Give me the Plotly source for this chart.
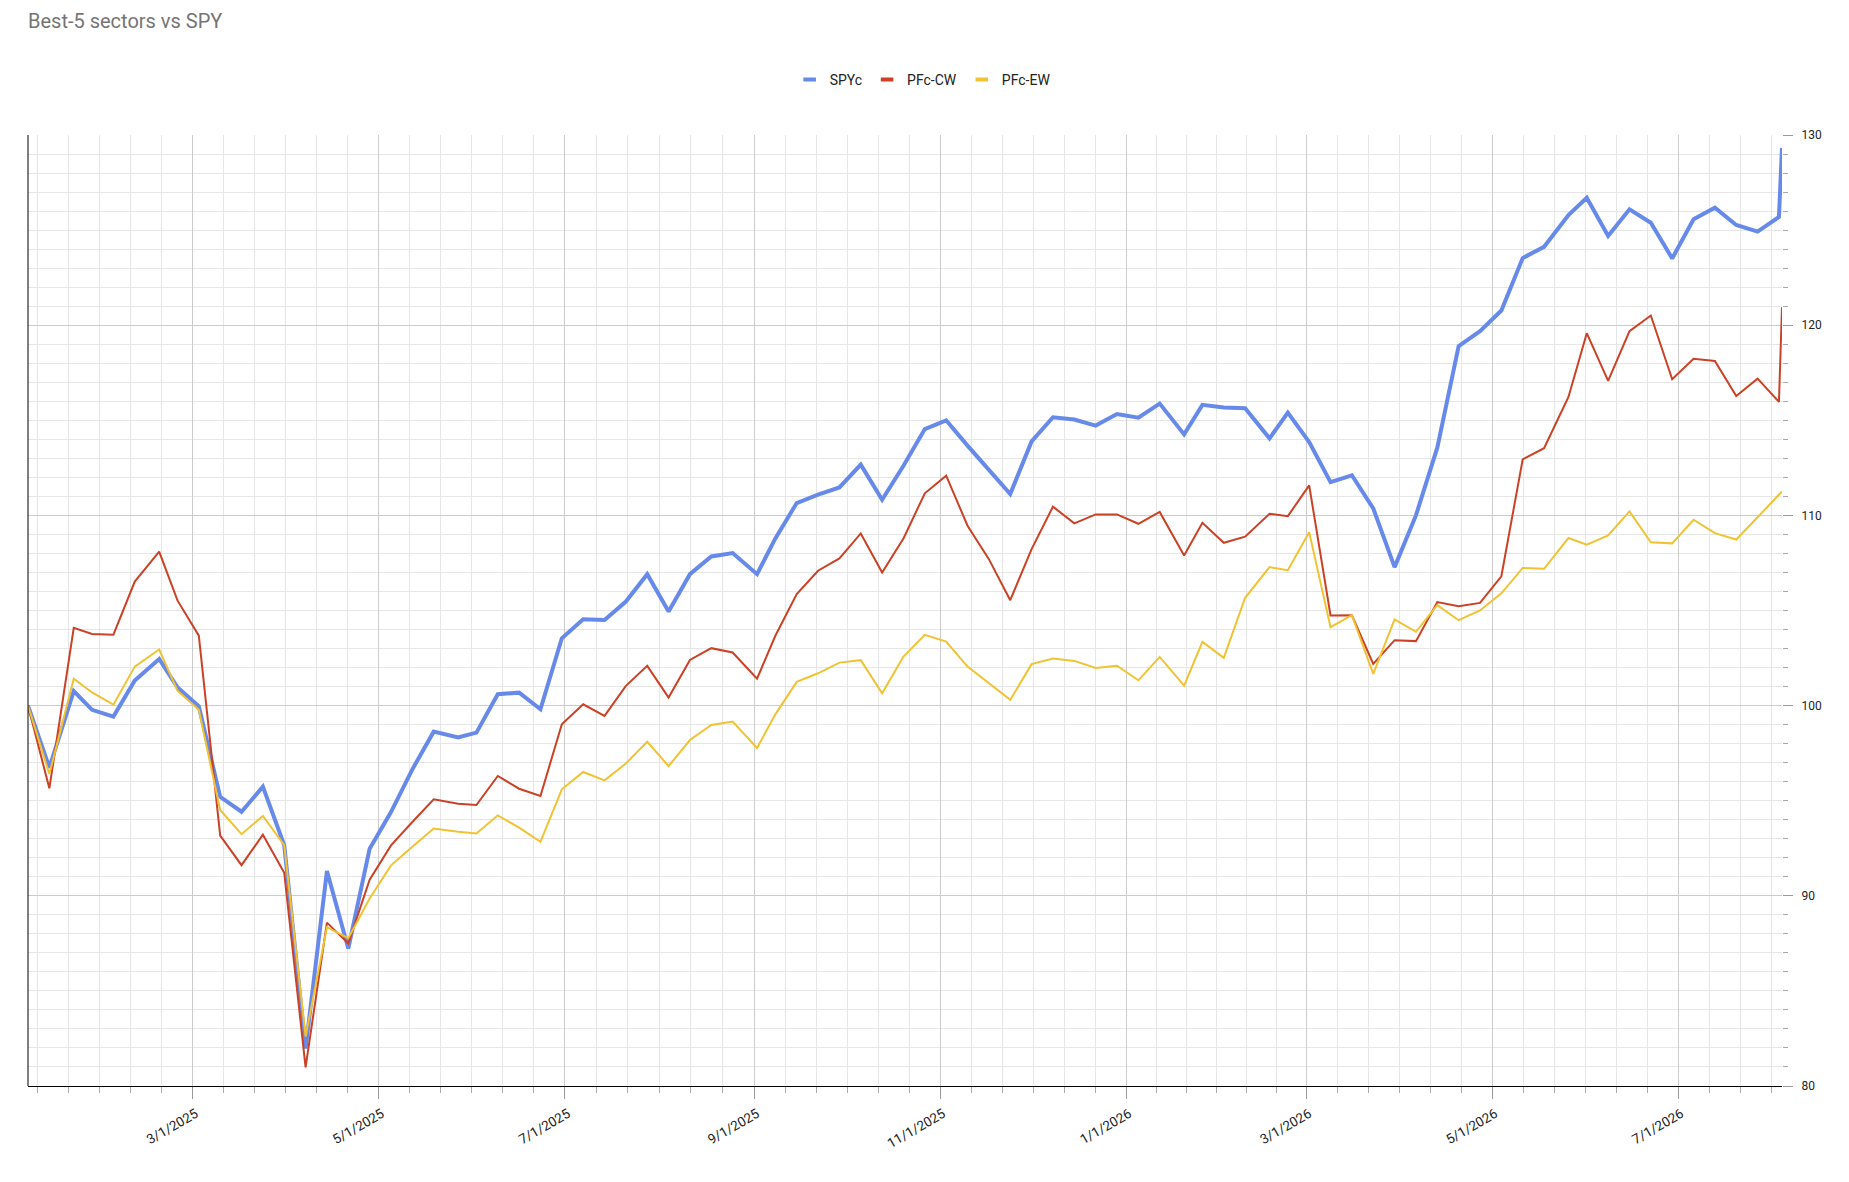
import plotly.graph_objects as go
import datetime as dt

# ---------------- data ----------------
dates = [
    "2025-01-06", "2025-01-13", "2025-01-21", "2025-01-27", "2025-02-03", "2025-02-10",
    "2025-02-18", "2025-02-24", "2025-03-03", "2025-03-10", "2025-03-17", "2025-03-24",
    "2025-03-31", "2025-04-07", "2025-04-14", "2025-04-21", "2025-04-28", "2025-05-05",
    "2025-05-12", "2025-05-19", "2025-05-27", "2025-06-02", "2025-06-09", "2025-06-16",
    "2025-06-23", "2025-06-30", "2025-07-07", "2025-07-14", "2025-07-21", "2025-07-28",
    "2025-08-04", "2025-08-11", "2025-08-18", "2025-08-25", "2025-09-02", "2025-09-08",
    "2025-09-15", "2025-09-22", "2025-09-29", "2025-10-06", "2025-10-13", "2025-10-20",
    "2025-10-27", "2025-11-03", "2025-11-10", "2025-11-17", "2025-11-24", "2025-12-01",
    "2025-12-08", "2025-12-15", "2025-12-22", "2025-12-29", "2026-01-05", "2026-01-12",
    "2026-01-20", "2026-01-26", "2026-02-02", "2026-02-09", "2026-02-17", "2026-02-23",
    "2026-03-02", "2026-03-09", "2026-03-16", "2026-03-23", "2026-03-30", "2026-04-06",
    "2026-04-13", "2026-04-20", "2026-04-27", "2026-05-04", "2026-05-11", "2026-05-18",
    "2026-05-26", "2026-06-01", "2026-06-08", "2026-06-15", "2026-06-22", "2026-06-29",
    "2026-07-06", "2026-07-13", "2026-07-20", "2026-07-27", "2026-08-03", "2026-08-04",
]

spyc = [
    100, 96.74, 100.76, 99.78, 99.42, 101.32, 102.45, 100.96, 99.96, 95.2,
    94.42, 95.74, 92.66, 81.97, 91.3, 87.23, 92.48, 94.4, 96.65, 98.63,
    98.32, 98.58, 100.6, 100.68, 99.81, 103.54, 104.54, 104.5, 105.47, 106.91,
    104.95, 106.91, 107.84, 108.02, 106.91, 108.79, 110.65, 111.09, 111.47, 112.67,
    110.82, 112.61, 114.54, 115.0, 113.67, 112.4, 111.12, 113.89, 115.16, 115.04,
    114.72, 115.33, 115.14, 115.88, 114.26, 115.81, 115.67, 115.63, 114.05, 115.4,
    113.86, 111.75, 112.11, 110.37, 107.28, 110.0, 113.56, 118.9, 119.69, 120.77,
    123.53, 124.12, 125.79, 126.7, 124.69, 126.09, 125.39, 123.51, 125.57, 126.18,
    125.27, 124.92, 125.69, 129.32,
]

pfc_cw = [
    100, 95.65, 104.09, 103.77, 103.73, 106.52, 108.1, 105.53, 103.68, 93.17,
    91.61, 93.21, 91.21, 80.98, 88.59, 87.5, 90.85, 92.65, 93.88, 95.07,
    94.84, 94.77, 96.3, 95.63, 95.25, 99.02, 100.07, 99.46, 101.04, 102.09,
    100.42, 102.4, 103.02, 102.79, 101.42, 103.67, 105.86, 107.09, 107.74, 109.05,
    107.0, 108.79, 111.16, 112.09, 109.46, 107.7, 105.54, 108.23, 110.46, 109.58,
    110.05, 110.05, 109.56, 110.18, 107.89, 109.61, 108.56, 108.88, 110.09, 109.96,
    111.58, 104.74, 104.75, 102.19, 103.44, 103.39, 105.44, 105.23, 105.4, 106.8,
    112.95, 113.53, 116.23, 119.58, 117.07, 119.69, 120.51, 117.16, 118.24, 118.12,
    116.28, 117.19, 115.97, 120.94,
]

pfc_ew = [
    100, 96.4, 101.41, 100.69, 100.05, 102.05, 102.95, 100.78, 99.78, 94.51,
    93.24, 94.2, 92.66, 82.6, 88.35, 87.77, 89.86, 91.6, 92.58, 93.54,
    93.37, 93.28, 94.23, 93.58, 92.84, 95.6, 96.51, 96.07, 96.96, 98.1,
    96.82, 98.19, 98.98, 99.16, 97.77, 99.54, 101.25, 101.7, 102.26, 102.39,
    100.65, 102.58, 103.72, 103.37, 102.05, 101.18, 100.3, 102.18, 102.47, 102.35,
    101.98, 102.1, 101.33, 102.56, 101.05, 103.35, 102.51, 105.67, 107.28, 107.12,
    109.12, 104.12, 104.75, 101.67, 104.53, 103.88, 105.28, 104.49, 105.0, 105.9,
    107.24, 107.19, 108.81, 108.46, 108.95, 110.21, 108.59, 108.53, 109.77, 109.07,
    108.73, 109.9, 111.08, 111.26,
]

series_names = ["SPYc", "PFc-CW", "PFc-EW"]
series_colors = ["#6689EA", "#CC4125", "#F1C232"]
series_widths = [4, 2, 2]

x_major_ticks = ["2025-03-01", "2025-05-01", "2025-07-01", "2025-09-01", "2025-11-01",
                 "2026-01-01", "2026-03-01", "2026-05-01", "2026-07-01"]
x_major_labels = ["3/1/2025", "5/1/2025", "7/1/2025", "9/1/2025", "11/1/2025",
                  "1/1/2026", "3/1/2026", "5/1/2026", "7/1/2026"]
y_major_ticks = [80, 90, 100, 110, 120, 130]

# minor x gridlines: each labelled 2-month interval split into 6 equal parts
def _d(s):
    return dt.datetime.fromisoformat(s)

_maj = [_d(s) for s in x_major_ticks]
_start, _end = _d(dates[0]), _d(dates[-1])
_minor = []
_step0 = (_maj[1] - _maj[0]) / 6
_t = _maj[0] - _step0
while _t > _start:
    _minor.append(_t)
    _t -= _step0
for a, b in zip(_maj[:-1], _maj[1:]):
    for k in range(1, 6):
        _minor.append(a + (b - a) * k / 6)
_stepN = (_maj[-1] - _maj[-2]) / 6
_t = _maj[-1] + _stepN
while _t < _end:
    _minor.append(_t)
    _t += _stepN
x_minor_ticks = sorted(t.strftime("%Y-%m-%d %H:%M:%S") for t in _minor)

FONT = "Roboto, Arial, sans-serif"
W, H = 1849, 1182

fig = go.Figure()
for name, vals, col, lw in zip(series_names, [spyc, pfc_cw, pfc_ew], series_colors, series_widths):
    fig.add_trace(go.Scatter(x=dates, y=vals, mode="lines", name=name,
                             line=dict(color=col, width=lw), showlegend=False))
# legend swatches (short thick bars, like the reference)
for name, col in zip(series_names, series_colors):
    fig.add_trace(go.Scatter(x=[None], y=[None], mode="markers", name=name,
                             marker=dict(symbol="line-ew", size=9,
                                         line=dict(color=col, width=4)),
                             showlegend=True))

fig.update_layout(
    width=W, height=H,
    margin=dict(l=28, r=67, t=135, b=96),
    paper_bgcolor="white", plot_bgcolor="white",
    font=dict(family=FONT, color="#222222", size=12),
    title=dict(text="Best-5 sectors vs SPY", x=28 / W, xref="container", xanchor="left",
               y=1 - 21 / H, yref="container", yanchor="middle",
               font=dict(family=FONT, size=20, color="#757575")),
    legend=dict(orientation="h", x=0.499, xref="container", xanchor="center",
                y=1 - 80 / H, yref="container", yanchor="middle",
                font=dict(family=FONT, size=14, color="#222222"),
                itemwidth=30, bgcolor="rgba(0,0,0,0)"),
    hovermode=False,
    showlegend=True,
)

fig.update_xaxes(
    type="date", range=[dates[0], dates[-1]],
    tickmode="array", tickvals=x_major_ticks, ticktext=x_major_labels,
    tickangle=-30, tickfont=dict(family=FONT, size=13.5, color="#222222"),
    ticklabelshift=3, ticklabelstandoff=2,
    ticks="outside", ticklen=12, tickcolor="#999999", tickwidth=1,
    showgrid=True, gridcolor="#cccccc", gridwidth=1,
    showline=True, linecolor="#000000", linewidth=1,
    zeroline=False,
    minor=dict(tickmode="array", tickvals=x_minor_ticks, ticks="outside", ticklen=6,
               tickcolor="#aaaaaa", showgrid=True, gridcolor="#e6e6e6", gridwidth=1),
)

fig.update_yaxes(
    side="right", range=[80, 130],
    tickmode="array", tickvals=y_major_ticks,
    tickfont=dict(family=FONT, size=12, color="#222222"),
    ticks="outside", ticklen=10, tickcolor="#999999", tickwidth=1,
    ticklabelstandoff=6,
    showgrid=True, gridcolor="#cccccc", gridwidth=1,
    showline=False, zeroline=False,
    minor=dict(dtick=1, tick0=80, ticks="outside", ticklen=5, tickcolor="#aaaaaa",
               showgrid=True, gridcolor="#e6e6e6", gridwidth=1),
)

# left baseline (black vertical axis line)
fig.add_shape(type="line", xref="x domain", yref="y domain", x0=0, x1=0, y0=0, y1=1,
              line=dict(color="#000000", width=1), layer="above")

fig.write_html("out.html",
               config={"displayModeBar": False},
               post_script="document.body.style.margin='0';document.body.style.overflow='hidden';")
